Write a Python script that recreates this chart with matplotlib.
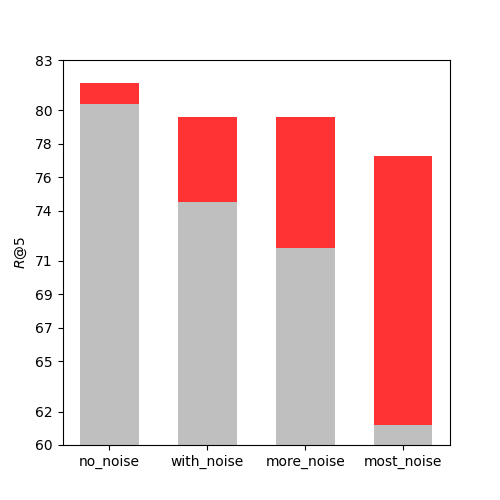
import matplotlib
matplotlib.use("Agg")
import matplotlib.pyplot as plt
import numpy as np

categories = ["no_noise", "with_noise", "more_noise", "most_noise"]
base_values = [80.4, 74.53, 71.78, 61.17]
total_values = [81.6, 79.6, 79.6, 77.27]
yticks = [60, 62, 65, 67, 69, 71, 74, 76, 78, 80, 83]

fig, ax = plt.subplots(figsize=(5, 5), dpi=100)
x = np.arange(len(categories))
base = np.array(base_values)
total = np.array(total_values)
ax.bar(x, base, width=0.6, color="#bfbfbf")
ax.bar(x, total - base, width=0.6, bottom=base, color="#ff3333")
ax.set_ylim(60, 83)
ax.set_yticks(yticks)
ax.set_yticklabels([str(t) for t in yticks])
ax.set_xticks(x)
ax.set_xticklabels(categories)
ax.set_ylabel(r"$R$@5")
fig.savefig("out.png", dpi=100)
